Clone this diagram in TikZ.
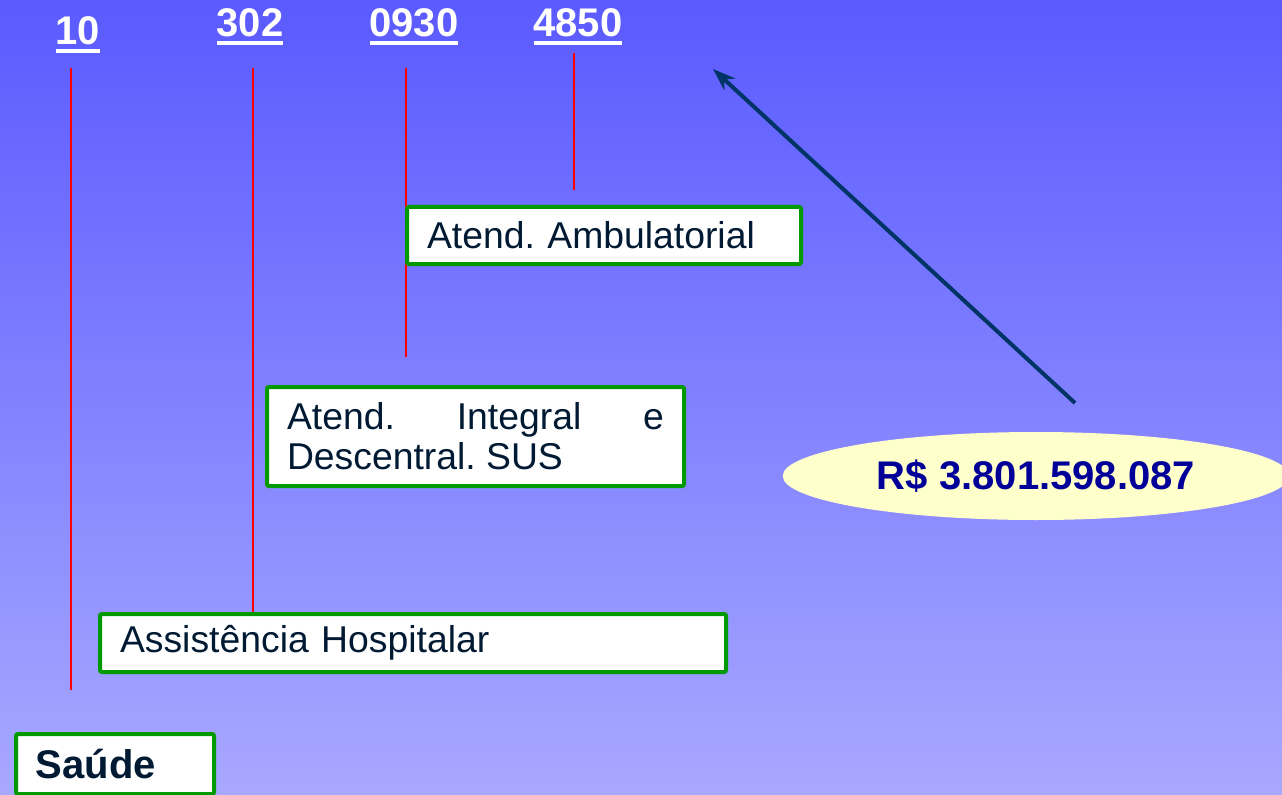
\documentclass[tikz,border=0pt]{standalone}
\usepackage{fontspec}
\setmainfont{Liberation Sans}
\frenchspacing
\usetikzlibrary{arrows.meta,
                positioning,
                shapes.geometric}
\definecolor{bgtop}{HTML}{5A5AFF}
\definecolor{bgbot}{HTML}{A8A8FF}
\definecolor{boxgreen}{HTML}{009900}
\definecolor{inkblue}{HTML}{001A33}
\definecolor{arrowblue}{HTML}{003366}
\definecolor{valueblue}{HTML}{000099}
\definecolor{paleyellow}{HTML}{FFFFCC}
% thick underline for the code digits
\newcommand{\codeul}[1]{\setbox0\hbox{#1}\rlap{\rule[-6pt]{\wd0}{3pt}}\box0}
\tikzset{
	%Define style for the code digits
	code/.style={
	       anchor=base,
	       text=white,
	       inner sep=0pt,
	       font=\fontsize{30}{34}\selectfont\bfseries},
	%Define style for the red ticks
	tick/.style={
	       red,
	       line width=1.5pt},
	%Define style for boxes
	prog/.style={
	       rectangle,
	       rounded corners=1.5pt,
	       draw=boxgreen, line width=3pt,
	       fill=white,
	       text=inkblue,
	       anchor=north west,
	       inner xsep=15pt,
	       inner ysep=0pt,
	       align=left,
	       font=\fontsize{28}{30}\selectfont},
	valbox/.style={
	       ellipse,
	       fill=paleyellow,
	       inner sep=0pt,
	       minimum width=380pt,
	       minimum height=66pt,
	       text=valueblue,
	       font=\fontsize{30}{34}\selectfont\bfseries},
	% Define arrow style
	pointer/.style={
	       -{Stealth[length=17pt,width=12pt]},
	       arrowblue,
	       line width=3pt}
}
\begin{document}
\begin{tikzpicture}[x=0.75pt, y=-0.75pt]
		\path[use as bounding box, clip] (0,0) rectangle (1282,795);
		\shade[top color=bgtop, bottom color=bgbot] (0,0) rectangle (1282,795);
		% code digits
		\node[code](n10) at (78,45){\codeul{10}};
		\node[code](n302) at (250,37){\codeul{302}};
		\node[code](n0930) at (414,37){\codeul{0930}};
		\node[code](n4850) at (578,37){\codeul{4850}};
		% tick ends
		\coordinate (t10) at (71,68);
		\coordinate (t302) at (253,68);
		\coordinate (t0930) at (406,68);
		\coordinate (t4850) at (574,53);
		\coordinate (e10) at (71,690);
		\coordinate (e302) at (253,612);
		\coordinate (e0930) at (406,357);
		\coordinate (e4850) at (574,190);
		% red ticks
		\draw[tick](t10) -- (e10);
		\draw[tick](t302) -- (e302);
		\draw[tick](t0930) -- (e0930);
		\draw[tick](t4850) -- (e4850);
		% boxes
		\node[prog, text width=118.5pt, minimum height=45pt,
		      font=\fontsize{30}{34}\selectfont\bfseries](saude) at (14,732){Saúde};
		\node[prog, text width=439.5pt, minimum height=43.5pt](hosp) at (98,612){Assistência Hospitalar};
		\node[prog, text width=282.75pt, minimum height=74.25pt, align=justify](integ) at (265,385)
		      {Atend. Integral e \mbox{Descentral.} SUS};
		\node[prog, text width=265.5pt, minimum height=42.75pt](ambul) at (405,205){Atend. Ambulatorial};
		% value
		\node[valbox](val) at (1036,476){R\$ 3.801.598.087};
		\coordinate (arrbase) at (1075,403);
		\coordinate (arrtip) at (713,69);
		\draw[pointer](arrbase) -- (arrtip);
\end{tikzpicture}
\end{document}
